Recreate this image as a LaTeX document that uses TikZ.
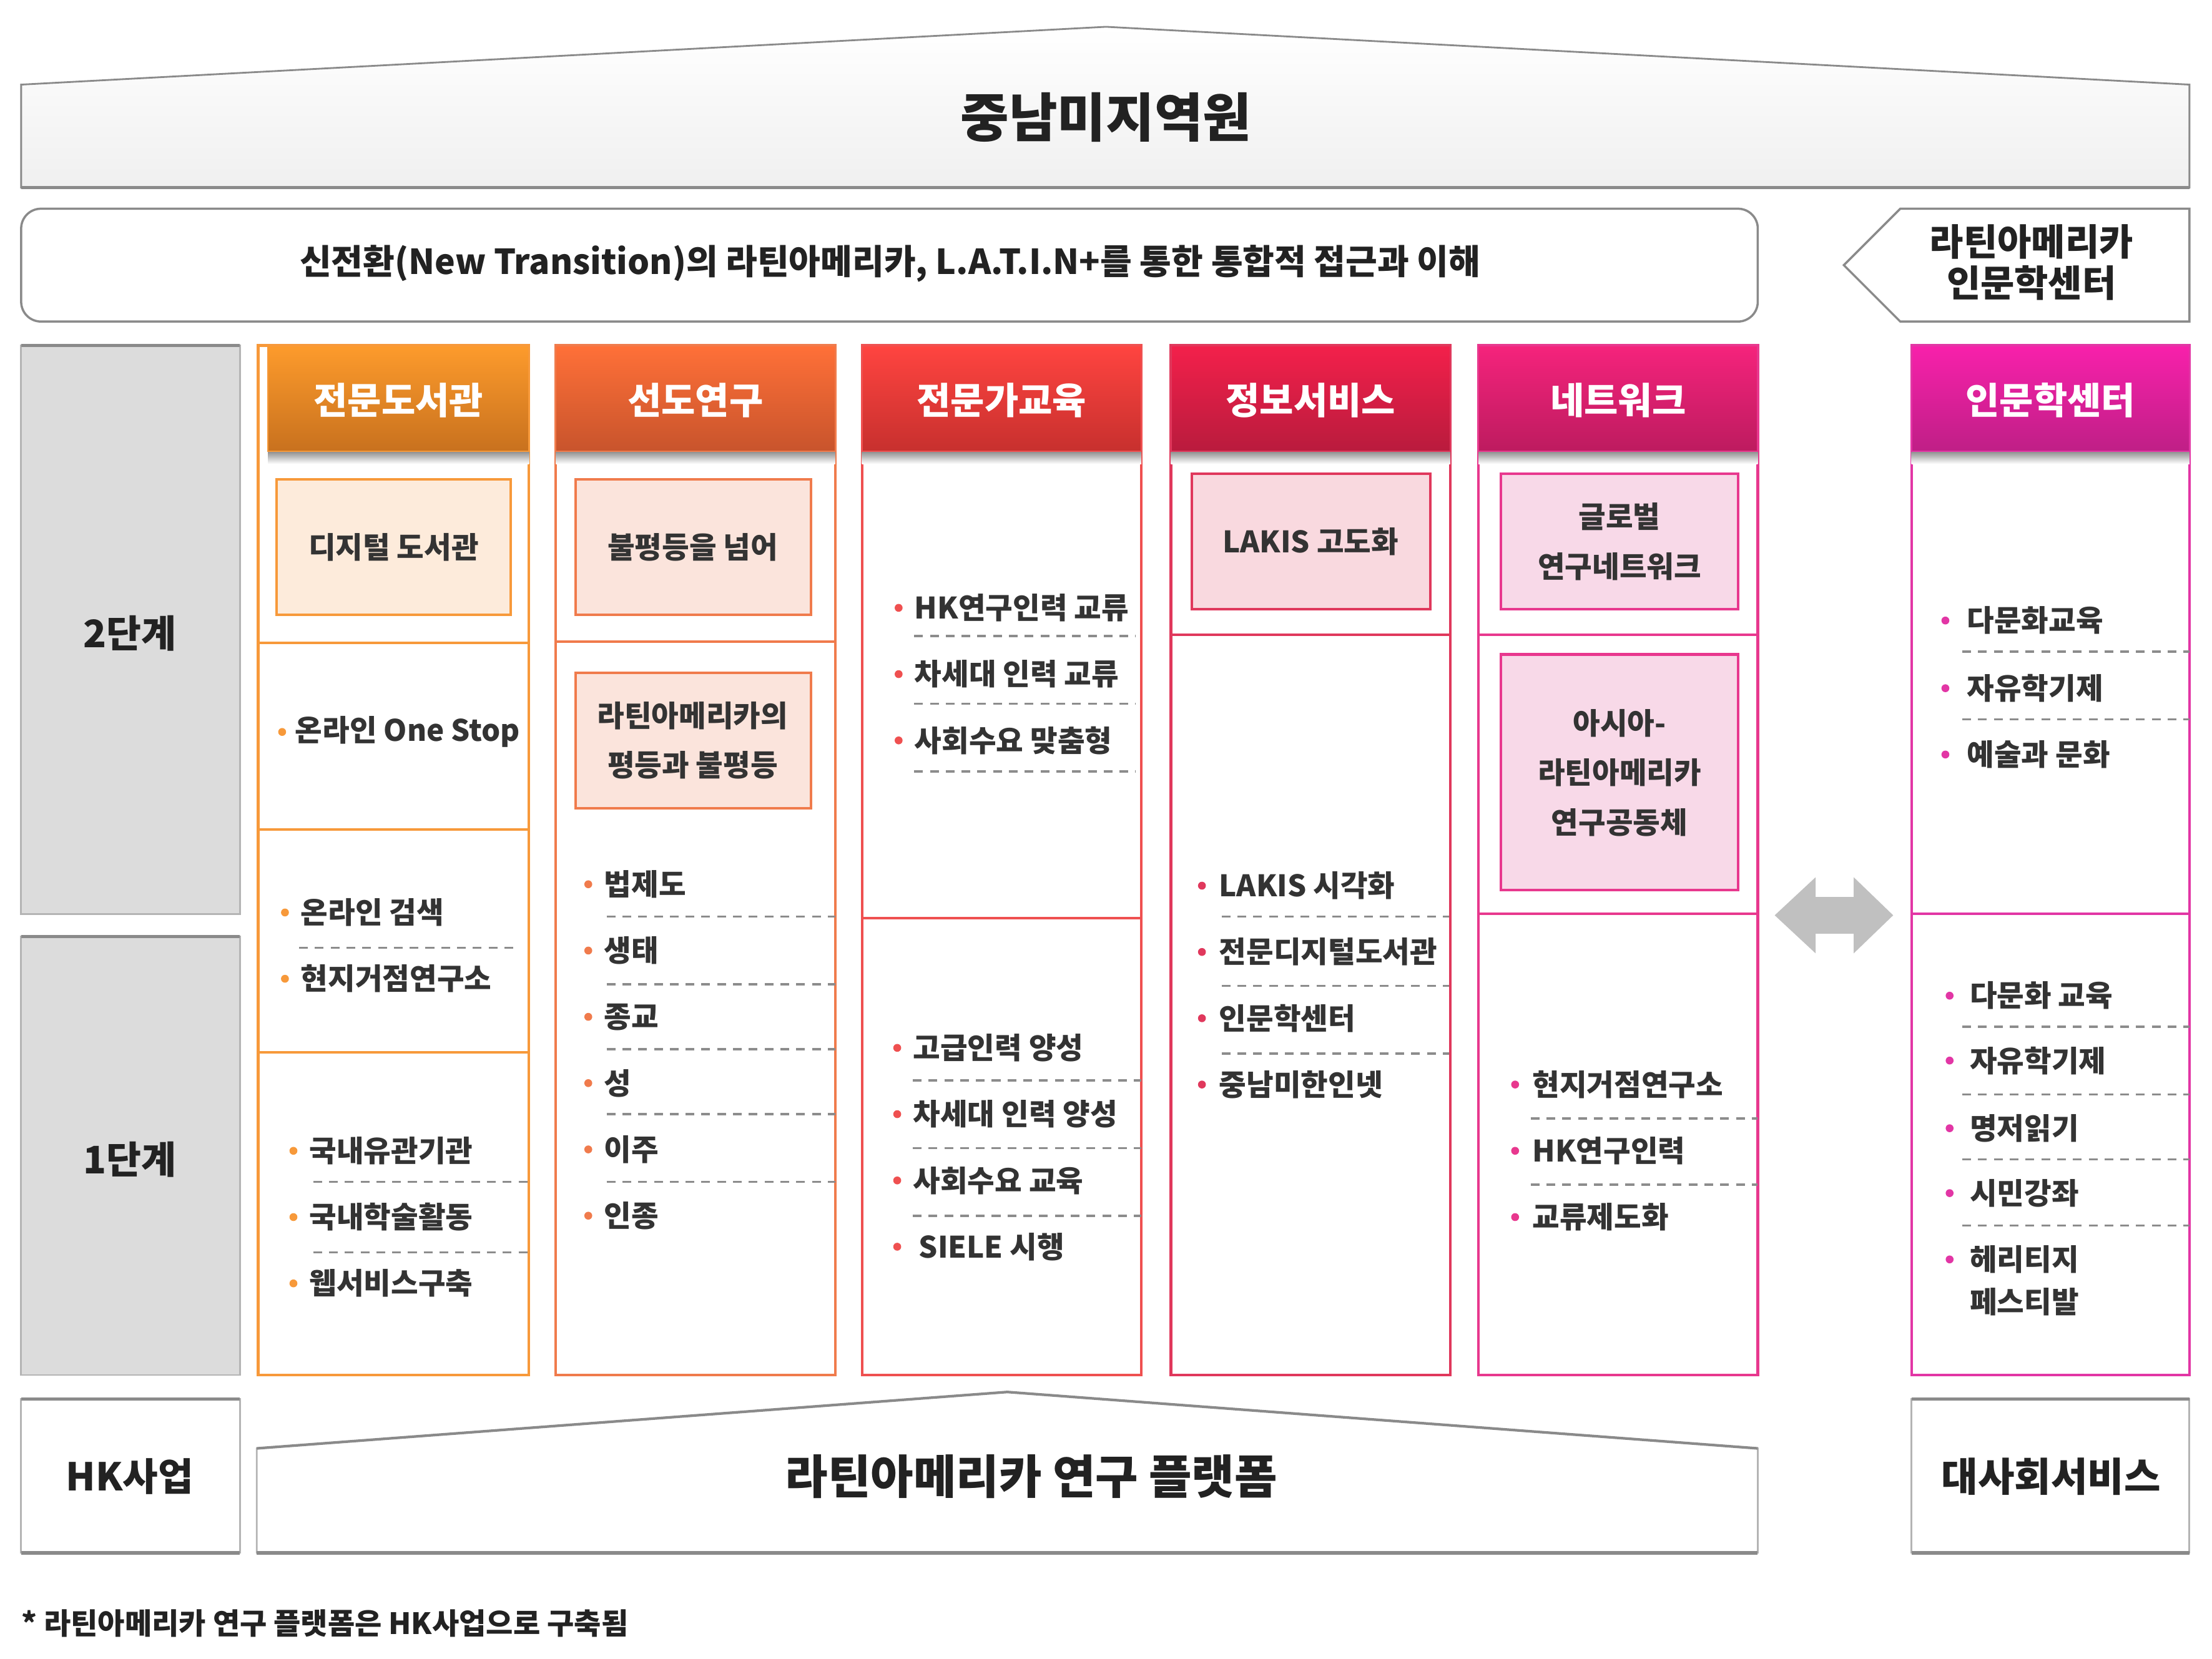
\documentclass[tikz,border=0pt]{standalone}
\usepackage{fontspec}
\setmainfont{Noto Sans CJK KR}
\usepackage{tikz}
\usetikzlibrary{calc}

\definecolor{txt}{HTML}{333333}
\definecolor{dk}{HTML}{222222}
\definecolor{frame}{HTML}{8A8A8A}
\definecolor{lightframe}{HTML}{B4B4B4}
\definecolor{stage}{HTML}{DCDCDC}
\definecolor{sepgray}{HTML}{8C8C8C}
\definecolor{arrowgray}{HTML}{C0C0C0}
% column colours: line, header top, header bottom, box fill
\definecolor{libA}{HTML}{F7993A}\definecolor{libAt}{HTML}{FD9B2C}\definecolor{libAb}{HTML}{C8711E}\definecolor{libAf}{HTML}{FDEBDB}
\definecolor{libB}{HTML}{F07B4C}\definecolor{libBt}{HTML}{FF7038}\definecolor{libBb}{HTML}{C8542C}\definecolor{libBf}{HTML}{FBE4DC}
\definecolor{libC}{HTML}{EF5050}\definecolor{libCt}{HTML}{FF4440}\definecolor{libCb}{HTML}{C7302E}
\definecolor{libD}{HTML}{E0385C}\definecolor{libDt}{HTML}{F3204B}\definecolor{libDb}{HTML}{B91B3D}\definecolor{libDf}{HTML}{F9D9DF}
\definecolor{libE}{HTML}{E8388E}\definecolor{libEt}{HTML}{F5237C}\definecolor{libEb}{HTML}{BD1B5F}\definecolor{libEf}{HTML}{F8D9E8}
\definecolor{libF}{HTML}{E236A5}\definecolor{libFt}{HTML}{F820AB}\definecolor{libFb}{HTML}{BF1F86}

\begin{document}
\begin{tikzpicture}[x=0.0226cm, y=-0.0226cm,
  hdr/.style={text=white, font=\bfseries\fontsize{16.8}{18}\selectfont},
  itm/.style={anchor=west, inner sep=0pt, text=txt, font=\bfseries\fontsize{13.5}{19.3}\selectfont},
  boxtext/.style={align=center, text=txt, font=\bfseries\fontsize{13.5}{22.6}\selectfont},
  big/.style={text=dk, font=\bfseries\fontsize{#1}{#1}\selectfont},
  sep/.style={sepgray, line width=1pt, dash pattern=on 4pt off 3.2pt},
  colline/.style={#1, line width=1.2pt}]

  \useasboundingbox (0,0) rectangle (1568,1176);

  % top roof
  \draw[frame, line width=0.8pt, top color=white, bottom color=gray!12] (15,133) -- (15,60) -- (784,19) -- (1552,60) -- (1552,133) -- cycle;
  \draw[frame, line width=1.6pt] (15,133) -- (1552,133);
  \node[big=24] (title) at (784,83) {중남미지역원};

  % vision bar
  \draw[frame, line width=1pt, fill=white, rounded corners=9pt] (15,148) rectangle (1246,228);
  \node[big=15.7] (vision) at (631,187) {신전환(New Transition)의 라틴아메리카, L.A.T.I.N+를 통한 통합적 접근과 이해};
  \draw[frame, line width=1pt, fill=white] (1307,188) -- (1347,148) -- (1552,148) -- (1552,228) -- (1347,228) -- cycle;
  \node[align=center, text=dk, font=\bfseries\fontsize{16.8}{18.6}\selectfont] (hcenter) at (1440,186) {라틴아메리카\\인문학센터};

  % stages
  \draw[lightframe, fill=stage, line width=0.8pt] (15,245) rectangle (170,648);
  \draw[frame, line width=1.4pt] (15,245) -- (170,245);
  \node[big=17.3] (stage2) at (92,449) {2단계};
  \draw[lightframe, fill=stage, line width=0.8pt] (15,664) rectangle (170,975);
  \draw[frame, line width=1.4pt] (15,664) -- (170,664);
  \node[big=17.3] (stage1) at (92,822) {1단계};

  % columns and headers
  \foreach \xa/\xh/\xb/\ln/\tp/\bt/\ttl [count=\i] in {
      183/190/375/libA/libAt/libAb/전문도서관,
      394/394/592/libB/libBt/libBb/선도연구,
      611/611/809/libC/libCt/libCb/전문가교육,
      830/830/1028/libD/libDt/libDb/정보서비스,
      1048/1048/1246/libE/libEt/libEb/네트워크,
      1355/1355/1552/libF/libFt/libFb/인문학센터} {
    \draw[colline=\ln] (\xa,245) rectangle (\xb,975);
    \shade[top color=black!45, bottom color=white] (\xh,320) rectangle (\xb,329);
    \shade[top color=\tp, bottom color=\bt, draw=\ln, line width=0.6pt] (\xh,245) rectangle (\xb,320);
    \node[hdr] (h\i) at ({(\xh+\xb)/2},284) {\ttl};
  }

  % column 1
  \draw[colline=libA] (183,456) -- (375,456) (183,588) -- (375,588) (183,746) -- (375,746);
  \draw[libA, fill=libAf, line width=1.2pt] (196,340) rectangle (362,436);
  \node[boxtext] (a1) at (279,388) {디지털 도서관};
  \fill[libA] (200,519) circle (1.8pt);
  \node[itm] (a2) at (209,519) {온라인 One Stop};
  \foreach \t/\y [count=\k] in {온라인 검색/647, 현지거점연구소/694} {
    \fill[libA] (202,\y) circle (1.8pt);
    \node[itm] (a3\k) at (213,\y) {\t};
  }
  \draw[sep] (212,672) -- (364,672);
  \foreach \t/\y [count=\k] in {국내유관기관/816, 국내학술활동/863, 웹서비스구축/910} {
    \fill[libA] (208,\y) circle (1.8pt);
    \node[itm] (a4\k) at (219,\y) {\t};
  }
  \foreach \y in {838,888} \draw[sep] (222,\y) -- (375,\y);

  % column 2
  \draw[colline=libB] (394,455) -- (592,455);
  \draw[libB, fill=libBf, line width=1.2pt] (408,340) rectangle (575,436);
  \node[boxtext] (b1) at (491,388) {불평등을 넘어};
  \draw[libB, fill=libBf, line width=1.2pt] (408,477) rectangle (575,573);
  \node[boxtext] (b2) at (491,525) {라틴아메리카의\\평등과 불평등};
  \foreach \t/\y [count=\k] in {법제도/627, 생태/674, 종교/721, 성/768, 이주/815, 인종/862} {
    \fill[libB] (417,\y) circle (1.8pt);
    \node[itm] (b3\k) at (428,\y) {\t};
  }
  \foreach \y in {650,698,744,790,838} \draw[sep] (430,\y) -- (592,\y);

  % column 3
  \draw[colline=libC] (611,651) -- (809,651);
  \foreach \t/\y [count=\k] in {HK연구인력 교류/431, 차세대 인력 교류/478, 사회수요 맞춤형/525} {
    \fill[libC] (637,\y) circle (1.8pt);
    \node[itm] (c1\k) at (648,\y) {\t};
  }
  \foreach \y in {451,499,547} \draw[sep] (648,\y) -- (805,\y);
  \foreach \t/\y [count=\k] in {고급인력 양성/743, 차세대 인력 양성/790, 사회수요 교육/837} {
    \fill[libC] (636,\y) circle (1.8pt);
    \node[itm] (c2\k) at (647,\y) {\t};
  }
  \fill[libC] (636,884) circle (1.8pt);
  \node[itm] (c24) at (651,884) {SIELE 시행};
  \foreach \y in {766,814,862} \draw[sep] (647,\y) -- (809,\y);

  % column 4
  \draw[libD, fill=libDf, line width=1.2pt] (845,336) rectangle (1014,432);
  \node[boxtext] (d1) at (929,384) {LAKIS 고도화};
  \draw[colline=libD] (830,450) -- (1028,450);
  \foreach \t/\y [count=\k] in {LAKIS 시각화/628, 전문디지털도서관/675, 인문학센터/722, 중남미한인넷/769} {
    \fill[libD] (852,\y) circle (1.8pt);
    \node[itm] (d2\k) at (864,\y) {\t};
  }
  \foreach \y in {650,699,747} \draw[sep] (866,\y) -- (1027,\y);

  % column 5
  \draw[libE, fill=libEf, line width=1.2pt] (1064,336) rectangle (1232,432);
  \node[boxtext] (e1) at (1148,384) {글로벌\\연구네트워크};
  \draw[colline=libE] (1048,450) -- (1246,450) (1048,648) -- (1246,648);
  \draw[libE, fill=libEf, line width=1.2pt] (1064,464) rectangle (1232,631);
  \node[boxtext] (e2) at (1148,548) {아시아-\\라틴아메리카\\연구공동체};
  \foreach \t/\y [count=\k] in {현지거점연구소/769, HK연구인력/816, 교류제도화/863} {
    \fill[libE] (1074,\y) circle (1.8pt);
    \node[itm] (e3\k) at (1086,\y) {\t};
  }
  \foreach \y in {793,840} \draw[sep] (1085,\y) -- (1246,\y);

  % column 6
  \draw[colline=libF] (1355,648) -- (1552,648);
  \foreach \t/\y [count=\k] in {다문화교육/440, 자유학기제/488, 예술과 문화/535} {
    \fill[libF] (1379,\y) circle (1.8pt);
    \node[itm] (f1\k) at (1394,\y) {\t};
  }
  \foreach \y in {462,510} \draw[sep] (1391,\y) -- (1552,\y);
  \foreach \t/\y [count=\k] in {다문화 교육/706, 자유학기제/752, 명저읽기/800, 시민강좌/846} {
    \fill[libF] (1382,\y) circle (1.8pt);
    \node[itm] (f2\k) at (1396,\y) {\t};
  }
  \fill[libF] (1382,893) circle (1.8pt);
  \node[itm, align=left] (f25) at (1396,908) {헤리티지\\페스티발};
  \foreach \y in {728,776,822,869} \draw[sep] (1391,\y) -- (1552,\y);

  % two-way arrow
  \fill[arrowgray] (1258,649) -- (1287,622) -- (1287,636) -- (1314,636) -- (1314,622) -- (1342,649)
    -- (1314,676) -- (1314,662) -- (1287,662) -- (1287,676) -- cycle;

  % bottom
  \draw[lightframe, fill=white, line width=0.8pt] (15,992) rectangle (170,1101);
  \draw[frame, line width=1.6pt] (15,992) -- (170,992) (15,1101) -- (170,1101);
  \node[big=17.5] (hk) at (92,1047) {HK사업};
  \draw[lightframe, fill=white, line width=0.8pt] (182,1101) -- (182,1027) -- (714,987) -- (1246,1027) -- (1246,1101) -- cycle;
  \draw[frame, line width=1.2pt] (182,1027) -- (714,987) -- (1246,1027);
  \draw[frame, line width=1.6pt] (182,1101) -- (1246,1101);
  \node[big=21.2] (platform) at (731,1047) {라틴아메리카 연구 플랫폼};
  \draw[lightframe, fill=white, line width=0.8pt] (1355,992) rectangle (1552,1101);
  \draw[frame, line width=1.6pt] (1355,992) -- (1552,992) (1355,1101) -- (1552,1101);
  \node[big=18.1] (social) at (1454,1047) {대사회서비스};

  \node[big=13.4, anchor=west, inner sep=0pt] (note) at (15,1151) {* 라틴아메리카 연구 플랫폼은 HK사업으로 구축됨};
\end{tikzpicture}
\end{document}
